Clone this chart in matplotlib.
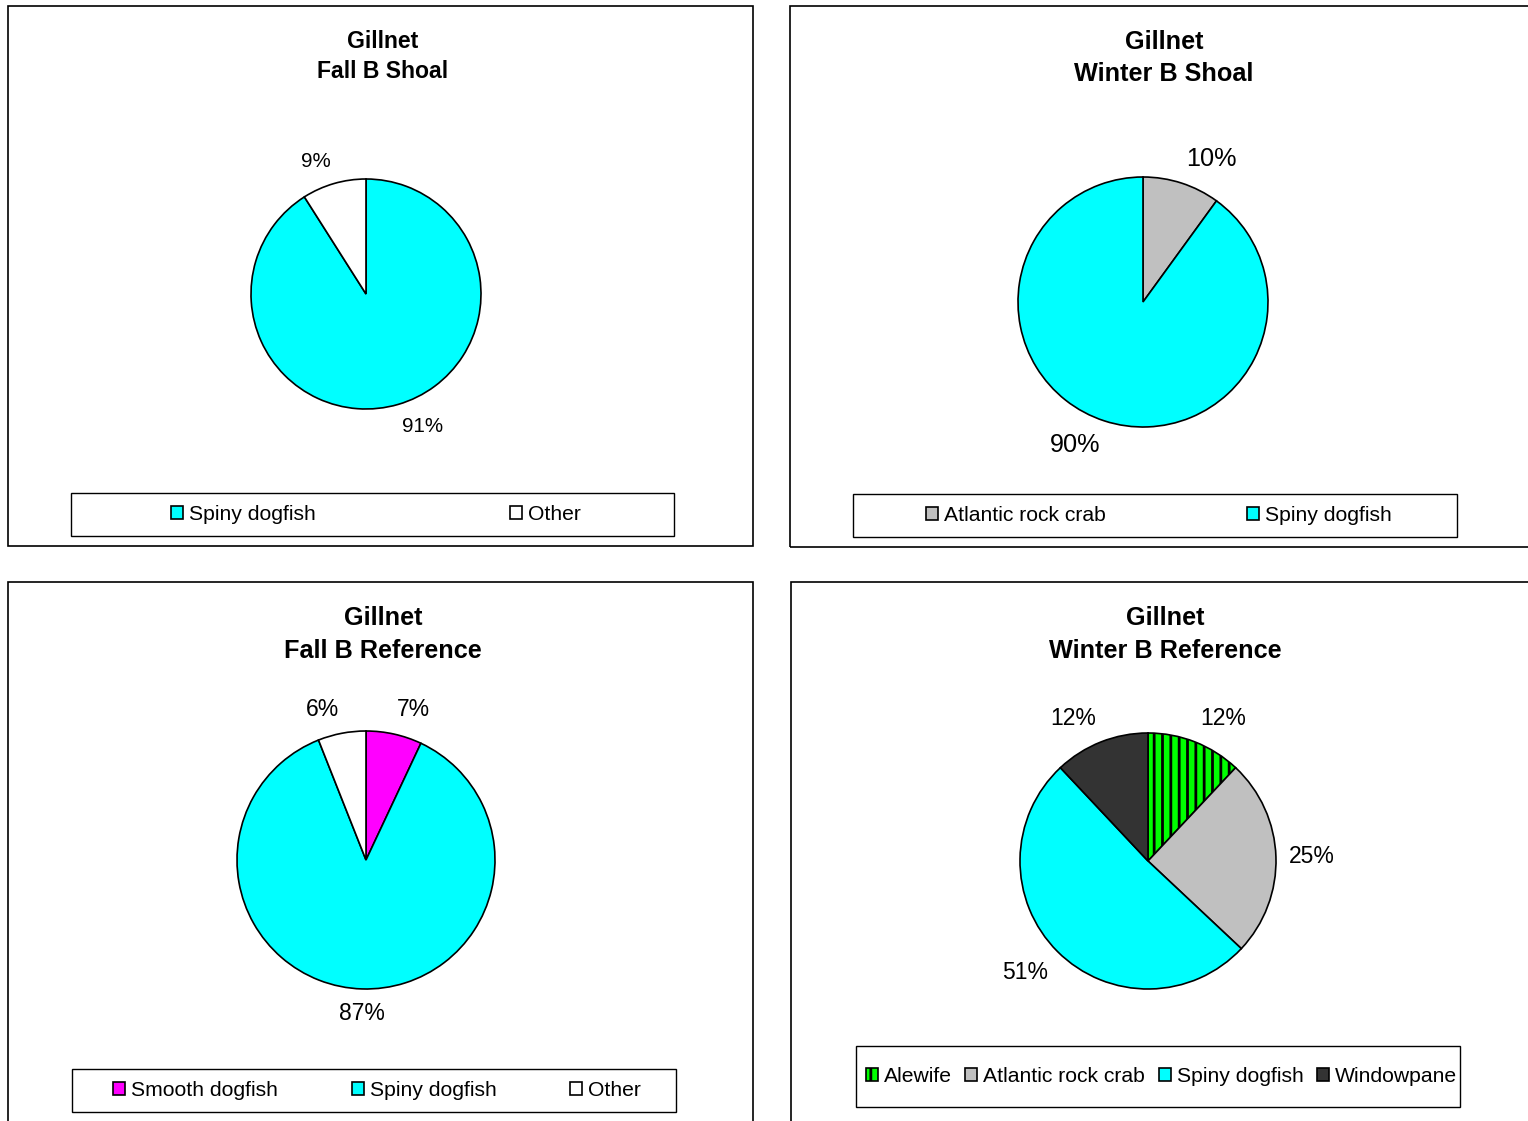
import numpy as np
import matplotlib.pyplot as plt
from matplotlib.patches import Rectangle

plt.rcParams['font.family'] = ['Liberation Sans', 'DejaVu Sans']
plt.rcParams['hatch.linewidth'] = 2.0

W, H = 1528, 1121

# data for the four panels
tlLabels = ["Spiny dogfish", "Other"]
tlValues = [91, 9]
tlColors = ["#00FFFF", "#FFFFFF"]

trLabels = ["Atlantic rock crab", "Spiny dogfish"]
trValues = [10, 90]
trColors = ["#C0C0C0", "#00FFFF"]

blLabels = ["Smooth dogfish", "Spiny dogfish", "Other"]
blValues = [7, 87, 6]
blColors = ["#FF00FF", "#00FFFF", "#FFFFFF"]

brLabels = ["Alewife", "Atlantic rock crab", "Spiny dogfish", "Windowpane"]
brValues = [12, 25, 51, 12]
brColors = ["#00FF00", "#C0C0C0", "#00FFFF", "#333333"]
brHatches = ["||", "", "", ""]

panels = [
  {"title": ["Gillnet", "Fall B Shoal"], "labels": tlLabels, "values": tlValues, "colors": tlColors,
   "hatches": None, "frame": (8, 6, 753, 546), "titleX": 383, "titleY": (41, 72), "titleSize": 16.6,
   "center": (366, 294), "radius": 115, "pctSize": 14.8,
   "legendBox": (71, 493, 674, 536), "legendSpan": (171, 581)},
  {"title": ["Gillnet", "Winter B Shoal"], "labels": trLabels, "values": trValues, "colors": trColors,
   "hatches": None, "frame": (790, 6, 1540, 547), "titleX": 1164, "titleY": (42, 74), "titleSize": 18.2,
   "center": (1143, 302), "radius": 125, "pctSize": 18.2,
   "legendBox": (853, 494, 1457, 537), "legendSpan": (926, 1392)},
  {"title": ["Gillnet", "Fall B Reference"], "labels": blLabels, "values": blValues, "colors": blColors,
   "hatches": None, "frame": (8, 582, 753, 1140), "titleX": 383, "titleY": (618, 651), "titleSize": 18.2,
   "center": (366, 860), "radius": 129, "pctSize": 16.5,
   "legendBox": (72, 1069, 676, 1112), "legendSpan": (113, 641)},
  {"title": ["Gillnet", "Winter B Reference"], "labels": brLabels, "values": brValues, "colors": brColors,
   "hatches": brHatches, "frame": (791, 582, 1540, 1140), "titleX": 1165, "titleY": (618, 651), "titleSize": 18.2,
   "center": (1148, 861), "radius": 128, "pctSize": 16.5,
   "legendBox": (856, 1046, 1460, 1107), "legendSpan": (866, 1457)},
]

labelGap = 13  # px between pie edge and the label corner

def fx(x):
  return x / W

def fy(y):
  return 1 - y / H

fig = plt.figure(figsize=(W / 100, H / 100), dpi=100)
fig.patch.set_facecolor("white")

for p in panels:
  x0, y0, x1, y1 = p["frame"]
  fig.add_artist(Rectangle((fx(x0), fy(y1)), fx(x1 - x0), (y1 - y0) / H, transform=fig.transFigure,
                           fill=False, edgecolor="black", linewidth=1.2))

  for line, ty in zip(p["title"], p["titleY"]):
    fig.text(fx(p["titleX"]), fy(ty), line, ha="center", va="center",
             fontsize=p["titleSize"], fontweight="bold")

  cx, cy = p["center"]
  r = p["radius"]
  lim = 1.1
  size = 2 * lim * r
  ax = fig.add_axes([fx(cx - size / 2), fy(cy + size / 2), size / W, size / H])
  wedges, texts = ax.pie(p["values"], colors=p["colors"], startangle=90, counterclock=False,
                         wedgeprops={"edgecolor": "black", "linewidth": 1.2})
  if p["hatches"]:
    for w, h in zip(wedges, p["hatches"]):
      if h:
        w.set_hatch(h)

  # excel style outside labels: the nearest corner of the text sits just off the edge
  total = sum(p["values"])
  dist = 1 + labelGap / r
  for w, v in zip(wedges, p["values"]):
    ang = np.deg2rad((w.theta1 + w.theta2) / 2)
    c, s = np.cos(ang), np.sin(ang)
    ha = "center" if abs(c) < 0.1 else ("left" if c > 0 else "right")
    va = "center" if abs(s) < 0.3 else ("bottom" if s > 0 else "top")
    ax.text(dist * c, dist * s, f"{round(v / total * 100)}%", ha=ha, va=va, fontsize=p["pctSize"])

  ax.set_xlim(-lim, lim)
  ax.set_ylim(-lim, lim)
  ax.set_aspect("equal")
  ax.axis("off")

  bx0, by0, bx1, by1 = p["legendBox"]
  fig.add_artist(Rectangle((fx(bx0), fy(by1)), (bx1 - bx0) / W, (by1 - by0) / H, transform=fig.transFigure,
                           fill=False, edgecolor="black", linewidth=1.0))
  sx0, sx1 = p["legendSpan"]
  midY = (by0 + by1) / 2
  fig.legend(wedges, p["labels"], loc="center", ncol=len(p["labels"]), mode="expand",
             bbox_to_anchor=(fx(sx0), fy(midY) - 0.01, (sx1 - sx0) / W, 0.02),
             frameon=False, fontsize=15.2, borderpad=0, borderaxespad=0,
             handlelength=0.57, handleheight=0.57, handletextpad=0.28)

fig.savefig("out.png", dpi=100)
